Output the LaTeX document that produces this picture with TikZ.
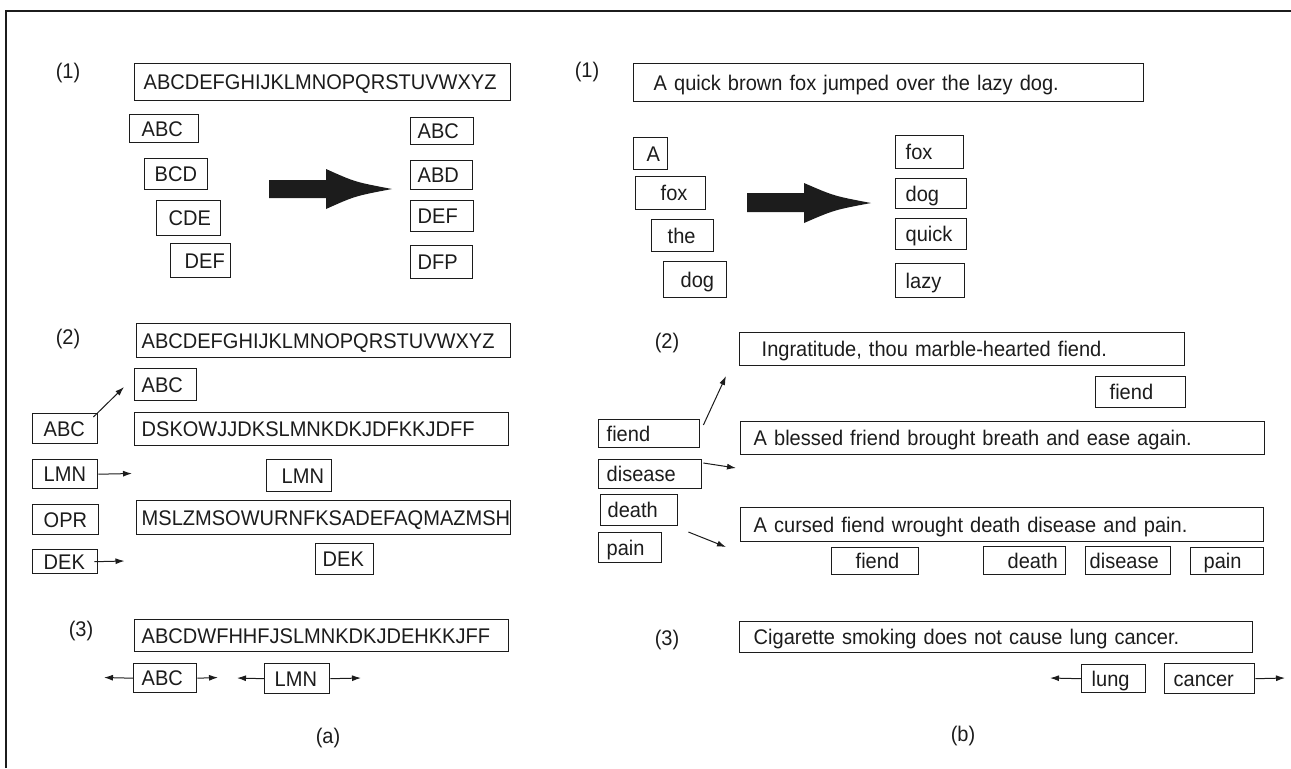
\documentclass[tikz,border=0pt]{standalone}
\usepackage{fontspec}
\setmainfont{Liberation Sans}[FakeStretch=0.945]
\usetikzlibrary{arrows.meta,calc}
\definecolor{ink}{HTML}{1c1c1c}
\newcommand\fnt{\fontsize{10.6pt}{12.5pt}\selectfont}
\newcommand\tb[7]{%
  \pgfmathsetmacro\tbw{(#4-#2-2*#6)*0.5}%
  \pgfmathsetmacro\tbh{(#5-#3)*0.5}%
  \pgfmathsetmacro\tbp{#6*0.5}%
  \node[bx, minimum height=\tbh pt, text width=\tbw pt, inner xsep=\tbp pt] (#1) at (#2,#3) {\mbox{#7}};}
\tikzset{
  bx/.style={draw=ink, line width=0.7pt, anchor=north west, inner ysep=0pt,
    text height=7.59pt, text depth=0pt, align=left, font=\fnt, text=ink},
  lab/.style={inner sep=0pt, font=\fnt, text=ink},
  arr/.style={draw=ink, line width=0.5pt, -{Latex[length=4.5pt,width=3pt]}},
  bigarrow/.style={fill=ink, draw=none}
}
\begin{document}
\begin{tikzpicture}[x=0.5pt,y=-0.5pt]
\useasboundingbox (0,0) rectangle (1291,768);
% frame
\draw[ink, line width=1pt] (6,768) -- (6,10.5) -- (1291,10.5);

% ---------- (a) (1)
\node[lab] (la1) at (68,73) {(1)};
\tb{LAtop}{134}{63}{510}{100}{9}{ABCDEFGHIJKLMNOPQRSTUVWXYZ}
\tb{LAabc}{129}{114}{198}{142}{12}{ABC}
\tb{LAbcd}{144}{158}{207}{189}{10}{BCD}
\tb{LAcde}{156}{200}{220}{235}{12}{CDE}
\tb{LAdef}{170}{243}{230}{277}{14}{DEF}
\tb{LAabcR}{410}{117}{473}{144}{7}{ABC}
\tb{LAabdR}{410}{160}{472}{189}{7}{ABD}
\tb{LAdefR}{410}{200}{473}{231}{7}{DEF}
\tb{LAdfpR}{410}{245}{472}{278}{7}{DFP}
\path[bigarrow] (269,180) -- (326,180) -- (326,169) .. controls (355,182) .. (392,189)
  .. controls (355,196) .. (326,209) -- (326,198) -- (269,198) -- cycle;

% ---------- (a) (2)
\node[lab] (la2) at (68,339) {(2)};
\tb{LBtop}{136}{323}{510}{357}{5}{ABCDEFGHIJKLMNOPQRSTUVWXYZ}
\tb{LBabcT}{134}{368}{196}{400}{7}{ABC}
\tb{LBabcL}{32}{413}{97}{443}{11}{ABC}
\tb{LBdsk}{134}{412}{508}{445}{7}{DSKOWJJDKSLMNKDKJDFKKJDFF}
\tb{LBlmnL}{32}{459}{97}{488}{11}{LMN}
\tb{LBlmnM}{266}{459}{331}{491}{15}{LMN}
\tb{LBoprL}{32}{504}{98}{534}{11}{OPR}
\tb{LBmsl}{136}{500}{510}{534}{5}{MSLZMSOWURNFKSADEFAQMAZMSH}
\tb{LBdekL}{32}{549}{97}{573}{11}{DEK}
\tb{LBdekM}{315}{543}{373}{574}{7}{DEK}
\coordinate (eB1) at (124,387);
\coordinate (eB2) at (132,473.5);
\coordinate (eB3) at (124.5,561);
\draw[arr] ($(LBabcL.north east)+(-5,4)$) -- (eB1);
\draw[arr] (LBlmnL.east) -- (eB2);
\draw[arr] ($(LBdekL.east)+(-4,0)$) -- (eB3);

% ---------- (a) (3)
\node[lab] (la3) at (81,631) {(3)};
\tb{LCtop}{134}{619}{508}{651}{7}{ABCDWFHHFJSLMNKDKJDEHKKJFF}
\tb{LCabc}{133}{663}{196}{692}{8}{ABC}
\tb{LClmn}{264}{663}{329}{693}{10}{LMN}
\coordinate (eC1) at (104,677.5);
\coordinate (eC2) at (218,677.5);
\coordinate (eC3) at (237,678);
\coordinate (eC4) at (361,678);
\draw[arr] (LCabc.west) -- (eC1);
\draw[arr] (LCabc.east) -- (eC2);
\draw[arr] (LClmn.west) -- (eC3);
\draw[arr] (LClmn.east) -- (eC4);
\node[lab] (capa) at (328,738) {(a)};

% ---------- (b) (1)
\node[lab] (rb1) at (587,72) {(1)};
\tb{RAtop}{633}{63}{1143}{101}{20}{A quick brown fox jumped over the lazy dog.}
\tb{RAa}{633}{137}{667}{169}{13}{A}
\tb{RAfox}{635}{176}{705}{209}{25}{fox}
\tb{RAthe}{651}{219}{713}{251}{16}{the}
\tb{RAdog}{663}{261}{726}{297}{17}{dog}
\tb{RAfoxR}{895}{135}{963}{168}{10}{fox}
\tb{RAdogR}{895}{178}{966}{208}{10}{dog}
\tb{RAquickR}{895}{218}{966}{249}{10}{quick}
\tb{RAlazyR}{895}{263}{964}{297}{10}{lazy}
\path[bigarrow] (747,193) -- (804,193) -- (804,183) .. controls (834,196) .. (871,203)
  .. controls (834,210) .. (804,223) -- (804,212) -- (747,212) -- cycle;

% ---------- (b) (2)
\node[lab] (rb2) at (667,343) {(2)};
\tb{RBtop}{739}{332}{1184}{365}{22}{Ingratitude, thou marble-hearted fiend.}
\tb{RBfiendR}{1095}{376}{1185}{407}{14}{fiend}
\tb{RBfiendL}{598}{419}{699}{447}{8}{fiend}
\tb{RBbless}{740}{421}{1264}{454}{13}{A blessed friend brought breath and ease again.}
\tb{RBdisease}{598}{459}{701}{488}{8}{disease}
\tb{RBdeath}{600}{494}{677}{525}{7}{death}
\tb{RBpain}{598}{532}{661}{562}{8}{pain}
\tb{RBcurse}{740}{507}{1263}{541}{13}{A cursed fiend wrought death disease and pain.}
\tb{RBfiendB}{831}{547}{918}{574}{24}{fiend}
\tb{RBdeathB}{983}{546}{1065}{574}{24}{death}
\tb{RBdiseaseB}{1085}{546}{1170}{574}{4}{disease}
\tb{RBpainB}{1190}{547}{1263}{574}{13}{pain}
\coordinate (eR1) at (726,376);
\coordinate (eR2) at (736,468);
\coordinate (eR3) at (726,547);
\draw[arr] ($(RBfiendL.north east)+(3,6)$) -- (eR1);
\draw[arr] ($(RBdisease.north east)+(1,4)$) -- (eR2);
\draw[arr] ($(RBpain.north east)+(26,0)$) -- (eR3);

% ---------- (b) (3)
\node[lab] (rb3) at (667,640) {(3)};
\tb{RCtop}{739}{621}{1252}{652}{14}{Cigarette smoking does not cause lung cancer.}
\tb{RClung}{1081}{664}{1145}{692}{10}{lung}
\tb{RCcancer}{1164}{663}{1254}{693}{9}{cancer}
\coordinate (eR4) at (1050,678);
\coordinate (eR5) at (1285,678);
\draw[arr] (RClung.west) -- (eR4);
\draw[arr] (RCcancer.east) -- (eR5);
\node[lab] (capb) at (963,736) {(b)};
\end{tikzpicture}
\end{document}
